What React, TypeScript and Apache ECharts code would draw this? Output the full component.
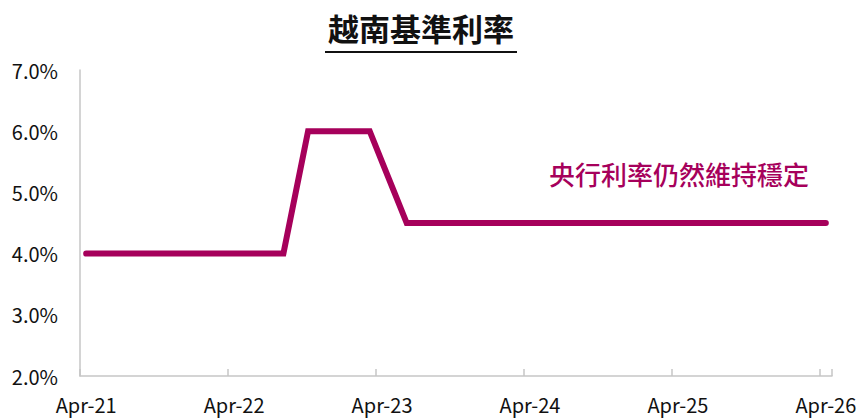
import React, { useEffect, useRef } from "react";
import * as echarts from "echarts";

const months: string[] = [
  "Apr-21", "May-21", "Jun-21", "Jul-21", "Aug-21", "Sep-21", "Oct-21", "Nov-21", "Dec-21", "Jan-22", "Feb-22", "Mar-22",
  "Apr-22", "May-22", "Jun-22", "Jul-22", "Aug-22", "Sep-22", "Oct-22", "Nov-22", "Dec-22", "Jan-23", "Feb-23", "Mar-23",
  "Apr-23", "May-23", "Jun-23", "Jul-23", "Aug-23", "Sep-23", "Oct-23", "Nov-23", "Dec-23", "Jan-24", "Feb-24", "Mar-24",
  "Apr-24", "May-24", "Jun-24", "Jul-24", "Aug-24", "Sep-24", "Oct-24", "Nov-24", "Dec-24", "Jan-25", "Feb-25", "Mar-25",
  "Apr-25", "May-25", "Jun-25", "Jul-25", "Aug-25", "Sep-25", "Oct-25", "Nov-25", "Dec-25", "Jan-26", "Feb-26", "Mar-26",
  "Apr-26",
];

const baseRate: number[] = [
  4.0, 4.0, 4.0, 4.0, 4.0, 4.0, 4.0, 4.0, 4.0, 4.0, 4.0, 4.0,
  4.0, 4.0, 4.0, 4.0, 4.0, 5.0, 6.0, 6.0, 6.0, 6.0, 6.0, 6.0,
  5.5, 5.0, 4.5, 4.5, 4.5, 4.5, 4.5, 4.5, 4.5, 4.5, 4.5, 4.5,
  4.5, 4.5, 4.5, 4.5, 4.5, 4.5, 4.5, 4.5, 4.5, 4.5, 4.5, 4.5,
  4.5, 4.5, 4.5, 4.5, 4.5, 4.5, 4.5, 4.5, 4.5, 4.5, 4.5, 4.5,
  4.5,
];

const titleText = "越南基準利率";
const noteText = "央行利率仍然維持穩定";
const yMin = 2;
const yMax = 7;

const lineColor = "#A6005B";
const font = "'Noto Sans CJK TC', 'Noto Sans', sans-serif";

export default function App() {
  const ref = useRef<HTMLDivElement>(null);
  useEffect(() => {
    if (!ref.current) return;
    const chart = echarts.init(ref.current, null, { renderer: "svg" });
    chart.setOption({
      animation: false,
      backgroundColor: "#ffffff",
      grid: { left: 80, right: 31, top: 70, bottom: 42, containLabel: false },
      xAxis: {
        type: "category",
        data: months,
        boundaryGap: true,
        axisLine: { show: true, lineStyle: { color: "#c6c6c6", width: 1.5 } },
        axisTick: { show: true, inside: true, interval: 11, length: 7, lineStyle: { color: "#c6c6c6", width: 1.5 } },
        axisLabel: { interval: 11, color: "#111", fontSize: 20, fontFamily: font, margin: 18 },
        splitLine: { show: false },
      },
      yAxis: {
        type: "value",
        min: yMin,
        max: yMax,
        interval: 1,
        axisLine: { show: true, lineStyle: { color: "#c6c6c6", width: 1.5 } },
        axisTick: { show: false },
        splitLine: { show: false },
        axisLabel: {
          color: "#111",
          fontSize: 20,
          fontFamily: font,
          margin: 22,
          formatter: (v: number) => v.toFixed(1) + "%",
        },
      },
      graphic: [
        {
          type: "text",
          x: 421,
          y: 27,
          style: {
            text: titleText,
            fill: "#111",
            font: `bold 31px ${font}`,
            textAlign: "center",
            textVerticalAlign: "middle",
          },
        },
        {
          type: "line",
          shape: { x1: 325, y1: 52, x2: 517, y2: 52 },
          style: { stroke: "#111", lineWidth: 2 },
        },
        {
          type: "text",
          x: 549,
          y: 173,
          style: { text: noteText, fill: lineColor, font: `500 26px ${font}`, textVerticalAlign: "middle" },
        },
      ],
      series: [
        {
          type: "line",
          data: baseRate,
          symbol: "none",
          lineStyle: { color: lineColor, width: 6, cap: "round", join: "miter" },
        },
      ],
    });
    return () => chart.dispose();
  }, []);
  return <div ref={ref} style={{ width: 863, height: 418, position: "absolute", left: 0, top: 0 }} />;
}
